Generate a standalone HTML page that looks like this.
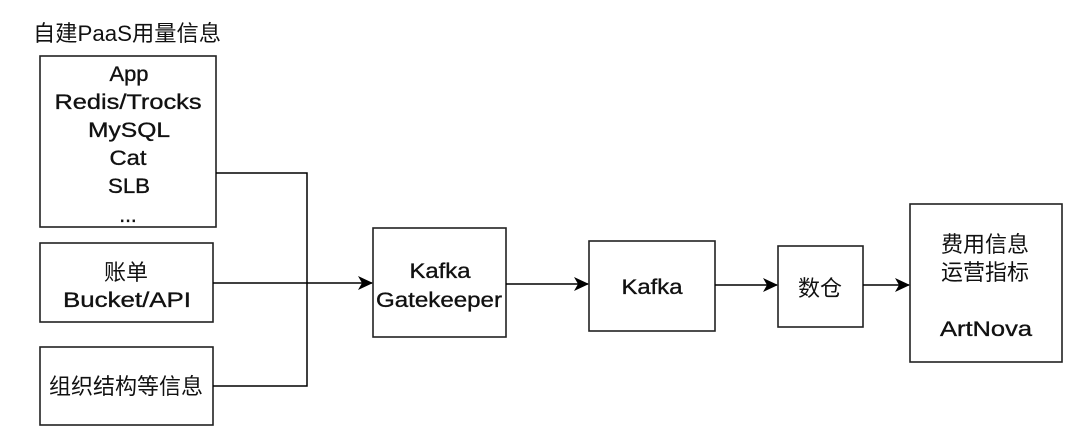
<!DOCTYPE html>
<html><head><meta charset="utf-8"><style>
html,body{margin:0;padding:0;background:#fff;}
body{width:1080px;height:439px;overflow:hidden;}
text{font-family:"Liberation Sans","Noto Sans CJK SC",sans-serif;fill:#111;}
</style></head><body>
<svg width="1080" height="439" viewBox="0 0 1080 439" xmlns="http://www.w3.org/2000/svg">
<defs><marker id="a" markerWidth="16" markerHeight="16" refX="14" refY="8" orient="auto" markerUnits="userSpaceOnUse"><path d="M0,1 L15,8 L0,15 L4,8 Z" fill="#000"/></marker></defs>
<text x="33" y="41" font-size="22" textLength="188" lengthAdjust="spacingAndGlyphs">自建PaaS用量信息</text>
<g fill="none" stroke="#222" stroke-width="1.6">
<rect x="40" y="56" width="176" height="171"/>
<rect x="40" y="243" width="173" height="79"/>
<rect x="40" y="347" width="173" height="78"/>
<rect x="373" y="228" width="133" height="109"/>
<rect x="589" y="241" width="126" height="90"/>
<rect x="778" y="246" width="85" height="81"/>
<rect x="910" y="204" width="152" height="158"/>
</g>
<g fill="none" stroke="#000" stroke-width="1.5">
<polyline points="216,173 307,173 307,386 213,386"/>
<line x1="213" y1="283" x2="372" y2="283" marker-end="url(#a)"/>
<line x1="506" y1="284" x2="588" y2="284" marker-end="url(#a)"/>
<line x1="715" y1="285" x2="777" y2="285" marker-end="url(#a)"/>
<line x1="863" y1="285" x2="909" y2="285" marker-end="url(#a)"/>
</g>
<g font-size="21" text-anchor="middle" stroke="#111" stroke-width="0.35">
<text x="129" y="81" textLength="39" lengthAdjust="spacingAndGlyphs">App</text>
<text x="128" y="109" textLength="147" lengthAdjust="spacingAndGlyphs">Redis/Trocks</text>
<text x="129" y="137" textLength="82" lengthAdjust="spacingAndGlyphs">MySQL</text>
<text x="128" y="165" textLength="37" lengthAdjust="spacingAndGlyphs">Cat</text>
<text x="129" y="193" textLength="42" lengthAdjust="spacingAndGlyphs">SLB</text>
<text x="128" y="222">...</text>
<text x="127" y="307" textLength="128" lengthAdjust="spacingAndGlyphs">Bucket/API</text>
<text x="440" y="278" textLength="61" lengthAdjust="spacingAndGlyphs">Kafka</text>
<text x="439" y="307" textLength="126" lengthAdjust="spacingAndGlyphs">Gatekeeper</text>
<text x="652" y="294" textLength="61" lengthAdjust="spacingAndGlyphs">Kafka</text>
<text x="986" y="336" textLength="92" lengthAdjust="spacingAndGlyphs">ArtNova</text>
</g>
<g font-size="22" text-anchor="middle">
<text x="126" y="280">账单</text>
<text x="126" y="394">组织结构等信息</text>
<text x="820" y="296">数仓</text>
<text x="985" y="252">费用信息</text>
<text x="985" y="280">运营指标</text>
</g>
</svg>
</body></html>
